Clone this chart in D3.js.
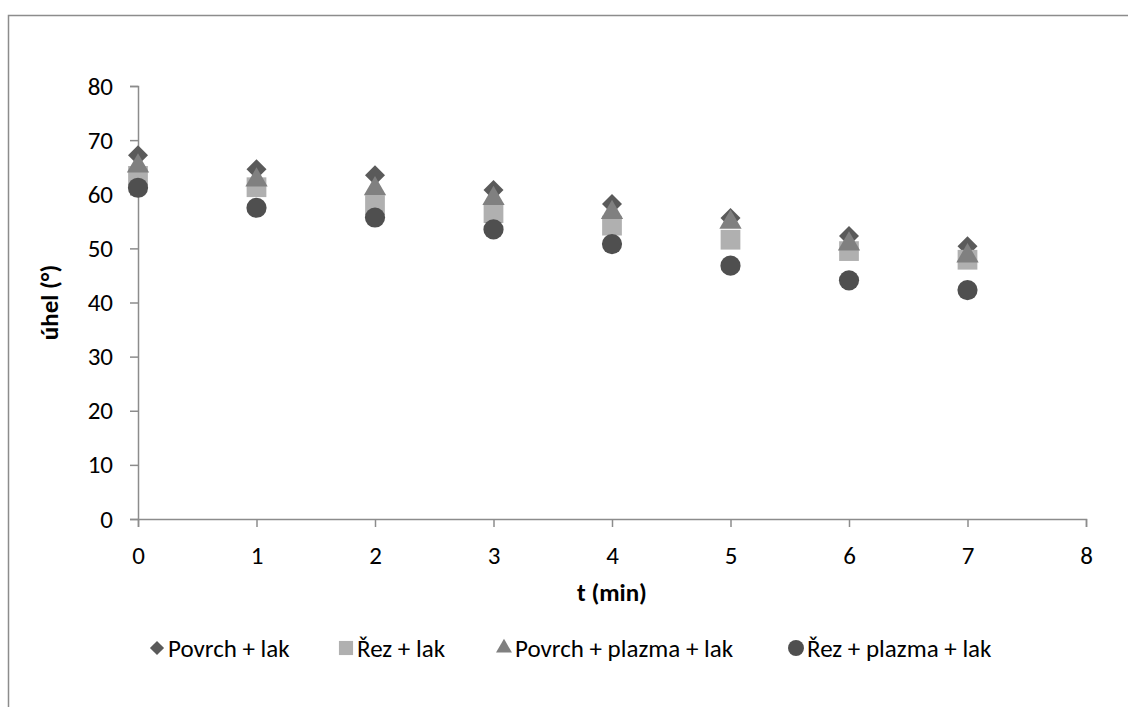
<!DOCTYPE html>
<html>
<head>
<meta charset="utf-8">
<script src="https://cdn.jsdelivr.net/npm/d3@7"></script>
<style>
  html, body { margin: 0; padding: 0; background: #fff; }
  svg { display: block; font-family: Carlito, Calibri, Lato, "Liberation Sans", sans-serif; }
</style>
</head>
<body>
<svg id="chart" width="1128" height="707"></svg>
<script>
// Contact angle over time for four surface treatments
const times = [0, 1, 2, 3, 4, 5, 6, 7];
const povrchLak = [67.2, 64.6, 63.5, 60.8, 58.2, 55.6, 52.3, 50.4];
const rezLak = [63.4, 61.3, 58.0, 56.5, 54.2, 51.6, 49.5, 47.9];
const povrchPlazmaLak = [65.2, 62.6, 61.0, 59.2, 56.6, 54.8, 50.8, 48.6];
const rezPlazmaLak = [61.2, 57.5, 55.7, 53.5, 50.8, 46.8, 44.1, 42.3];
const seriesNames = ["Povrch + lak", "Řez + lak", "Povrch + plazma + lak", "Řez + plazma + lak"];
const yTicks = [0, 10, 20, 30, 40, 50, 60, 70, 80];
const xTicks = [0, 1, 2, 3, 4, 5, 6, 7, 8];

const series = [
  { name: seriesNames[0], values: povrchLak, shape: d3.symbolSquare, rot: 45, color: "#5a5a5a", area: 200, legendArea: 100 },
  { name: seriesNames[1], values: rezLak, shape: d3.symbolSquare, rot: 0, color: "#b0b0b0", area: 390, legendArea: 200 },
  { name: seriesNames[2], values: povrchPlazmaLak, shape: d3.symbolTriangle, rot: 0, color: "#808080", area: 215, legendArea: 110 },
  { name: seriesNames[3], values: rezPlazmaLak, shape: d3.symbolCircle, rot: 0, color: "#4f4f4f", area: 320, legendArea: 200 }
];

const svg = d3.select("#chart");
const fontStack = "Carlito, Calibri, Lato, 'Liberation Sans', sans-serif";

// outer chart frame (top and left edges visible)
svg.append("rect")
  .attr("x", 8.5).attr("y", 15.5)
  .attr("width", 1140).attr("height", 720)
  .attr("fill", "none").attr("stroke", "#8c8c8c").attr("stroke-width", 1.5);

const x = d3.scaleLinear().domain([0, 8]).range([138, 1086]);
const y = d3.scaleLinear().domain([0, 80]).range([519, 86]);

const axisColor = "#8c8c8c";
const fontSize = 25;

// y axis
const yAxis = svg.append("g")
  .attr("transform", `translate(${x(0)},0)`)
  .call(d3.axisLeft(y).tickValues(yTicks).tickSize(8).tickPadding(17).tickFormat(d3.format("d")));
// x axis
const xAxis = svg.append("g")
  .attr("transform", `translate(0,${y(0)})`)
  .call(d3.axisBottom(x).tickValues(xTicks).tickSize(8).tickPadding(19).tickFormat(d3.format("d")));

[yAxis, xAxis].forEach(g => {
  g.attr("font-size", fontSize).attr("font-family", fontStack);
  g.select(".domain").attr("stroke", axisColor).attr("stroke-width", 1.5);
  g.selectAll(".tick line").attr("stroke", axisColor).attr("stroke-width", 1.5);
  g.selectAll(".tick text").attr("fill", "#000");
});

// axis titles
svg.append("text")
  .attr("x", x(4)).attr("y", 601)
  .attr("text-anchor", "middle")
  .attr("font-size", fontSize).attr("font-weight", "bold")
  .text("t (min)");
svg.append("text")
  .attr("transform", `translate(58,${y(40)}) rotate(-90)`)
  .attr("text-anchor", "middle")
  .attr("font-size", fontSize).attr("font-weight", "bold")
  .text("úhel (°)");

// markers
series.forEach(s => {
  const sym = d3.symbol().type(s.shape).size(s.area);
  svg.append("g").selectAll("path")
    .data(times.map((t, i) => [t, s.values[i]]))
    .join("path")
    .attr("d", sym)
    .attr("transform", d => `translate(${x(d[0])},${y(d[1])}) rotate(${s.rot})`)
    .attr("fill", s.color);
});

// legend
const legendY = 648;
const legendX = [157, 346, 504, 796];
series.forEach((s, i) => {
  const g = svg.append("g").attr("transform", `translate(${legendX[i]},${legendY})`);
  g.append("path")
    .attr("d", d3.symbol().type(s.shape).size(s.legendArea)())
    .attr("transform", `rotate(${s.rot})`)
    .attr("fill", s.color);
  g.append("text")
    .attr("x", 11).attr("y", 0).attr("dy", "0.35em")
    .attr("font-size", fontSize)
    .text(s.name);
});
</script>
</body>
</html>
